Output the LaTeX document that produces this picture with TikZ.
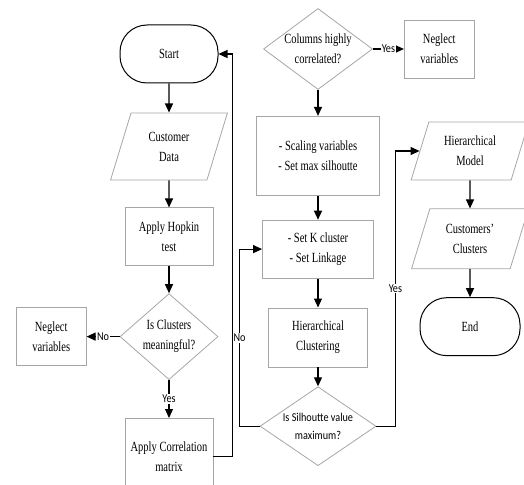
\documentclass[tikz,border=0pt]{standalone}
\usepackage{fontspec}
\setmainfont{Liberation Serif}[FakeStretch=0.75]
\newfontfamily\labelfont{Carlito}[FakeStretch=0.85]
\usetikzlibrary{arrows.meta, positioning, shapes.geometric}
\definecolor{boxgray}{HTML}{A6A6A6}

\begin{document}
\begin{tikzpicture}[
    x=1pt, y=-1pt,
    font=\fontsize{14}{20}\selectfont,
    proc/.style={rectangle, draw=boxgray, line width=0.8pt, align=center,
                 minimum width=88pt, minimum height=58pt},
    term/.style={rectangle, rounded corners=27pt, draw=black, line width=1pt,
                 minimum width=98pt, minimum height=58pt},
    io/.style={trapezium, trapezium left angle=73, trapezium right angle=107,
               draw=boxgray, line width=0.8pt, align=center,
               minimum width=117pt, minimum height=58pt, inner xsep=0pt},
    dec/.style={diamond, draw=boxgray, line width=0.8pt, align=center, inner sep=-3pt},
    arrow/.style={-{Triangle[length=9pt, width=8pt]}, line width=1.1pt, black},
    lbl/.style={font=\labelfont\fontsize{12}{14}\selectfont, fill=white, inner sep=1pt}
  ]
    \useasboundingbox (0,0) rectangle (524,484);
    % left column
    \node[term] (start) at (169,54) {Start};
    \node[io, below=29pt of start] (cdata) {Customer\\Data};
    \node[proc, below=27pt of cdata] (hopkin) {Apply Hopkin\\test};
    \node[dec, aspect=1.14, minimum width=98pt, minimum height=86pt, below=27pt of hopkin] (clus) {Is Clusters\\meaningful?};
    \node[proc, minimum width=70pt, left=33pt of clus] (neglA) {Neglect\\variables};
    \node[proc, minimum height=76pt, below=38pt of clus] (corr) {Apply Correlation\\matrix};
    % middle column
    \node[dec, aspect=1.35, minimum width=109pt, minimum height=81pt] (colcor) at (318,49) {Columns highly\\correlated?};
    \node[proc, minimum width=70pt, right=31pt of colcor] (neglB) {Neglect\\variables};
    \node[proc, minimum width=123pt, minimum height=79pt, below=26pt of colcor] (scale) {- Scaling variables\\- Set max silhoutte};
    \node[proc, minimum width=111pt, below=24pt of scale] (setk) {- Set K cluster\\- Set Linkage};
    \node[proc, minimum width=99pt, minimum height=59pt, below=29pt of setk] (hclust) {Hierarchical\\Clustering};
    \node[dec, aspect=1.47, minimum width=116pt, minimum height=79pt, below=19pt of hclust,
          font=\labelfont\fontsize{12}{18}\selectfont] (sil) {Is Silhoutte value\\maximum?};
    % right column
    \node[io] (hmodel) at (470,151) {Hierarchical\\Model};
    \node[io, below=28pt of hmodel] (cclus) {Customers'\\Clusters};
    \node[term, minimum width=100pt, below=28pt of cclus] (end) {End};

    \draw[arrow] (start) -- (cdata);
    \draw[arrow] (cdata) -- (hopkin);
    \draw[arrow] (hopkin) -- (clus);
    \draw[arrow] (clus) -- node[lbl] {No} (neglA);
    \draw[arrow] (clus) -- node[lbl] {Yes} (corr);
    \draw[arrow] (corr.east) -- ++(19,0) |- (start.east);
    \draw[arrow] (colcor) -- node[lbl] {Yes} (neglB);
    \draw[arrow] (colcor) -- (scale);
    \draw[arrow] (scale) -- (setk);
    \draw[arrow] (setk) -- (hclust);
    \draw[arrow] (hclust) -- (sil);
    \draw[arrow] (sil.west) -- ++(-20,0) |- node[lbl, pos=0.25] {No} (setk.west);
    \draw[arrow] (sil.east) -- ++(19,0) |- node[lbl, pos=0.25] {Yes} (hmodel.west);
    \draw[arrow] (hmodel) -- (cclus);
    \draw[arrow] (cclus) -- (end);
  \end{tikzpicture}
\end{document}
